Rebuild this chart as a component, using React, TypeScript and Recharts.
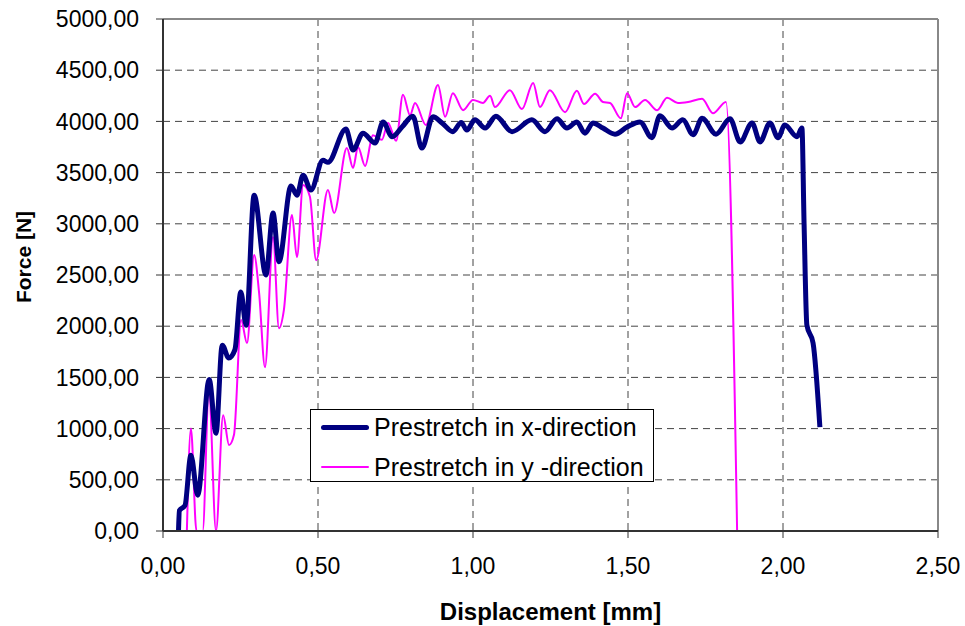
import React from 'react';
import { LineChart, Line, XAxis, YAxis, CartesianGrid, ReferenceLine, Legend } from 'recharts';

// Prestretch in x-direction
const dispX = [
  0.05, 0.053, 0.071, 0.09, 0.112, 0.149, 0.171, 0.191, 0.212, 0.232, 0.251, 0.268, 0.294, 0.332, 0.355,
  0.374, 0.413, 0.432, 0.452, 0.477, 0.516, 0.532, 0.59, 0.613, 0.645, 0.684, 0.71, 0.739, 0.771, 0.806,
  0.835, 0.871, 0.9, 0.935, 0.962, 0.98, 1.006, 1.039, 1.074, 1.126, 1.19, 1.232, 1.271, 1.303, 1.335,
  1.361, 1.387, 1.419, 1.458, 1.497, 1.539, 1.577, 1.603, 1.642, 1.677, 1.71, 1.739, 1.784, 1.829,
  1.862, 1.9, 1.926, 1.958, 1.984, 2.006, 2.045, 2.061, 2.068, 2.077, 2.097, 2.119,
];
const forceX = [
  0, 200, 250, 740, 350, 1480, 955, 1815, 1690, 1770, 2335, 2010, 3280, 2500, 3105,
  2630, 3370, 3280, 3475, 3330, 3620, 3600, 3925, 3720, 3885, 3790, 3995, 3850, 3945, 4050,
  3740, 4045, 3985, 3900, 3990, 3915, 4015, 3935, 4050, 3900, 4015, 3900, 4025, 3935, 3995,
  3885, 3985, 3935, 3875, 3945, 3995, 3840, 4055, 3935, 4015, 3870, 4030, 3875, 4025,
  3800, 3985, 3800, 3985, 3840, 3965, 3850, 3935, 3000, 2010, 1835, 1015,
];

// Prestretch in y-direction
const dispY = [
  0.077, 0.09, 0.108, 0.128, 0.148, 0.171, 0.194, 0.213, 0.229, 0.252, 0.271, 0.294, 0.31, 0.329, 0.355,
  0.374, 0.39, 0.416, 0.432, 0.452, 0.474, 0.494, 0.532, 0.552, 0.593, 0.613, 0.629, 0.652, 0.677, 0.706,
  0.726, 0.752, 0.774, 0.797, 0.813, 0.848, 0.887, 0.91, 0.935, 0.968, 1.0, 1.032, 1.055, 1.071, 1.119,
  1.158, 1.194, 1.216, 1.248, 1.297, 1.335, 1.358, 1.394, 1.419, 1.442, 1.477, 1.497, 1.523, 1.555, 1.594,
  1.626, 1.661, 1.694, 1.739, 1.774, 1.816, 1.852,
];
const forceY = [
  0, 1000, 0, 0, 1375, 0, 1130, 840, 940, 2060, 1835, 2695, 2325, 1600, 2870,
  1980, 2160, 3085, 2675, 3380, 3265, 2645, 3330, 3105, 3740, 3545, 3750, 3565, 3865, 3820,
  3985, 3810, 4260, 4060, 4180, 3965, 4355, 4045, 4275, 4110, 4210, 4180, 4250, 4140, 4305,
  4120, 4375, 4140, 4305, 4090, 4300, 4170, 4270, 4190, 4180, 4030, 4275, 4140, 4210, 4110,
  4230, 4180, 4190, 4220, 4080, 4190, 0,
];

const xTicks = [0, 0.5, 1, 1.5, 2, 2.5];
const yTicks = [0, 500, 1000, 1500, 2000, 2500, 3000, 3500, 4000, 4500, 5000];

const seriesX = dispX.map((x, i) => ({ x, f: forceX[i] }));
const seriesY = dispY.map((x, i) => ({ x, f: forceY[i] }));

const fmt = (v: number) => v.toFixed(2).replace('.', ',');
const FONT = "'Liberation Sans', Arial, sans-serif";

const LegendBox = () => (
  <div
    style={{
      width: 344,
      height: 73,
      boxSizing: 'border-box',
      border: '1px solid #000',
      background: '#fff',
      fontFamily: FONT,
      fontSize: 25,
      color: '#000',
      position: 'relative',
    }}
  >
    {[
      { label: 'Prestretch in x-direction', color: '#000080', w: 5, top: 17 },
      { label: 'Prestretch in y -direction', color: '#ff00ff', w: 2, top: 57 },
    ].map((it) => (
      <div key={it.label} style={{ position: 'absolute', left: 0, top: it.top - 15, height: 30, display: 'flex', alignItems: 'center' }}>
        <div style={{ marginLeft: 10, width: 48, height: it.w, background: it.color, borderRadius: it.w / 2 }} />
        <span style={{ marginLeft: 5, whiteSpace: 'nowrap', lineHeight: '30px' }}>{it.label}</span>
      </div>
    ))}
  </div>
);

const App: React.FC = () => {
  return (
    <div style={{ position: 'absolute', left: 0, top: 0, width: 965, height: 626, background: '#fff' }}>
      <LineChart width={965} height={626} margin={{ top: 19, right: 27, bottom: 0, left: 0 }}>
        <CartesianGrid stroke="#444" strokeDasharray="7 5" strokeWidth={1} />
        <XAxis
          type="number"
          dataKey="x"
          domain={[0, 2.5]}
          ticks={xTicks}
          tickFormatter={fmt}
          height={95}
          tickSize={7}
          tickMargin={20}
          axisLine={{ stroke: '#333', strokeWidth: 2 }}
          tickLine={{ stroke: '#333' }}
          tick={{ fontFamily: FONT, fontSize: 23, fill: '#000' }}
          allowDataOverflow
        />
        <YAxis
          type="number"
          dataKey="f"
          domain={[0, 5000]}
          ticks={yTicks}
          tickFormatter={fmt}
          width={163}
          tickSize={7}
          tickMargin={17}
          axisLine={{ stroke: '#333', strokeWidth: 2 }}
          tickLine={{ stroke: '#333' }}
          tick={{ fontFamily: FONT, fontSize: 23, fill: '#000' }}
        />
        <ReferenceLine x={2.5} stroke="#888" strokeWidth={2} />
        <ReferenceLine y={5000} stroke="#888" strokeWidth={2} />
        <Line
          data={seriesY}
          dataKey="f"
          type="monotone"
          stroke="#ff00ff"
          strokeWidth={2}
          dot={false}
          isAnimationActive={false}
          name="Prestretch in y -direction"
        />
        <Line
          data={seriesX}
          dataKey="f"
          type="monotone"
          stroke="#000080"
          strokeWidth={5}
          strokeLinejoin="round"
          dot={false}
          isAnimationActive={false}
          name="Prestretch in x-direction"
        />
        <Legend
          layout="vertical"
          align="center"
          verticalAlign="middle"
          content={() => <LegendBox />}
          wrapperStyle={{ position: 'absolute', left: 310, top: 409, width: 344, height: 73 }}
        />
      </LineChart>
      <div
        style={{
          position: 'absolute',
          left: 0,
          top: 598,
          width: 1101,
          textAlign: 'center',
          fontFamily: FONT,
          fontWeight: 'bold',
          fontSize: 24,
          lineHeight: '28px',
        }}
      >
        Displacement [mm]
      </div>
      <div
        style={{
          position: 'absolute',
          left: 24,
          top: 257,
          transform: 'translate(-50%, -50%) rotate(-90deg)',
          fontFamily: FONT,
          fontWeight: 'bold',
          fontSize: 21,
          lineHeight: '24px',
          whiteSpace: 'nowrap',
        }}
      >
        Force [N]
      </div>
    </div>
  );
};

export default App;
